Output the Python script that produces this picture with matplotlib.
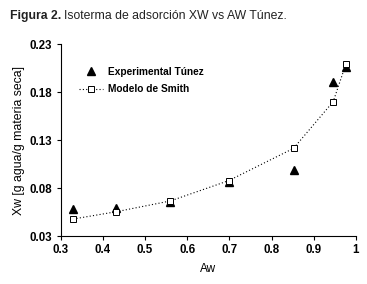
import matplotlib
matplotlib.use("Agg")
import matplotlib.pyplot as plt

aw = [0.330, 0.432, 0.560, 0.698, 0.852, 0.946, 0.976]
xw_exp = [0.0578, 0.0590, 0.0657, 0.0866, 0.0988, 0.1907, 0.2064]
xw_smith = [0.0477, 0.0553, 0.0665, 0.0876, 0.1213, 0.1700, 0.2090]
xticks = [0.3, 0.4, 0.5, 0.6, 0.7, 0.8, 0.9, 1.0]
xticklabels = ["0.3", "0.4", "0.5", "0.6", "0.7", "0.8", "0.9", "1"]
yticks = [0.03, 0.08, 0.13, 0.18, 0.23]
yticklabels = ["0.03", "0.08", "0.13", "0.18", "0.23"]

plt.rcParams['font.family'] = ['Liberation Sans', 'DejaVu Sans']

fig = plt.figure(figsize=(3.67, 2.84), dpi=100)
ax = fig.add_axes([0.165, 0.169, 0.805, 0.676])

ax.plot(aw, xw_smith, linestyle=(0, (1, 2)), color='black', linewidth=0.8,
        marker='s', markersize=4.5, markerfacecolor='white', markeredgecolor='black',
        markeredgewidth=0.7, label='Modelo de Smith', zorder=3)
ax.plot(aw, xw_exp, linestyle='none', marker='^', markersize=6, color='black',
        label='Experimental Túnez', zorder=2)

ax.set_xlim(0.3, 1.0)
ax.set_ylim(0.03, 0.23)
ax.set_xticks(xticks)
ax.set_xticklabels(xticklabels, fontsize=8.3, fontweight='bold')
ax.set_yticks(yticks)
ax.set_yticklabels(yticklabels, fontsize=8.3, fontweight='bold')
ax.spines['top'].set_visible(False)
ax.spines['right'].set_visible(False)
ax.spines['left'].set_linewidth(0.8)
ax.spines['bottom'].set_linewidth(0.8)
ax.tick_params(direction='out', length=3, width=0.8, pad=3)

ax.set_xlabel('Aw', fontsize=8.5, labelpad=5)
ax.set_ylabel('Xw [g agua/g materia seca]', fontsize=8.8, labelpad=3)

handles, labels = ax.get_legend_handles_labels()
leg = ax.legend(handles[::-1], labels[::-1], loc='upper left', bbox_to_anchor=(0.03, 0.93),
                frameon=False, prop={'size': 7.3, 'weight': 'bold'}, handlelength=2.4,
                labelspacing=0.75, handletextpad=0.5)

t1 = fig.text(0.027, 0.945, 'Figura 2.', fontsize=8.8, fontweight='bold', va='center',
              color='#222222')
fig.canvas.draw()
bb = t1.get_window_extent()
x2 = (bb.x1 + 3) / fig.bbox.width
fig.text(x2, 0.945, 'Isoterma de adsorción XW vs AW Túnez.', fontsize=8.8, va='center',
         color='#222222')

fig.savefig('out.png', dpi=100)
